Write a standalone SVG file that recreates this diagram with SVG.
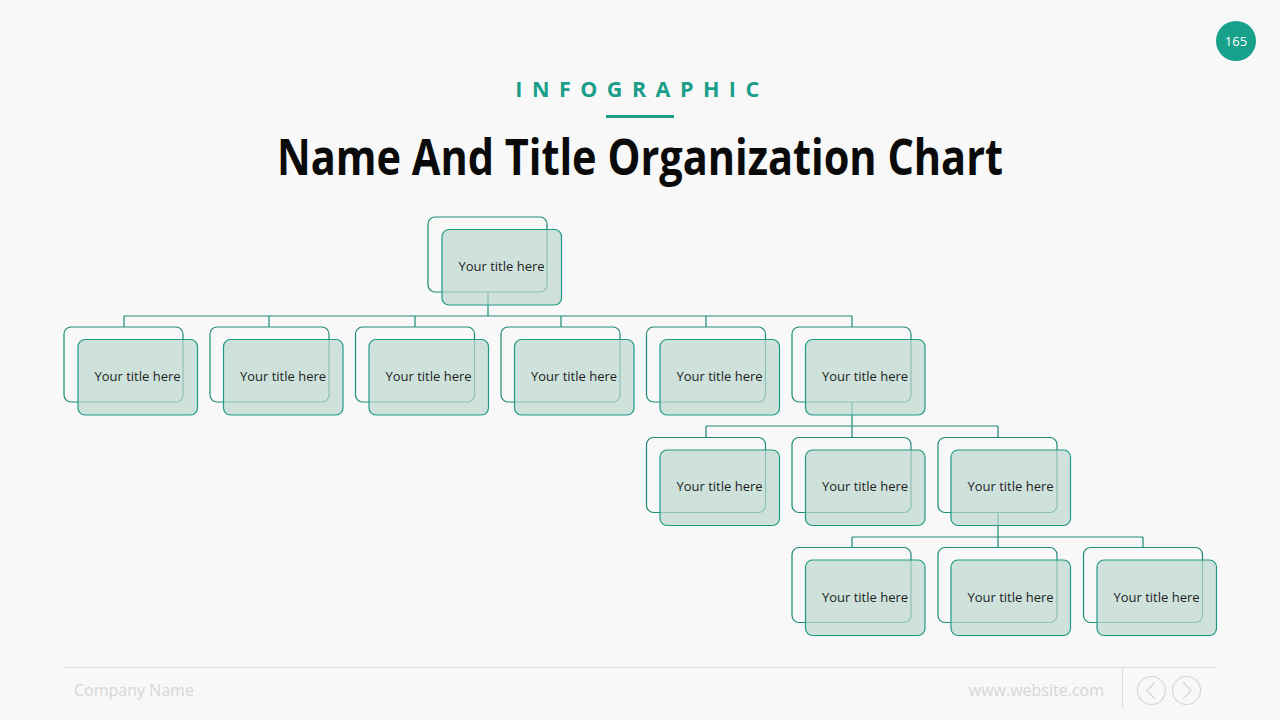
<svg xmlns="http://www.w3.org/2000/svg" width="1280" height="720" viewBox="0 0 1280 720">
<defs>
<style>
.bk{fill:#ffffff;fill-opacity:0.0;stroke:#1f8a78;stroke-width:1.2}
.fr{fill:#bcd9cf;fill-opacity:0.7;stroke:#1f9a84;stroke-width:1.2}
.t{font-family:"Open Sans","Liberation Sans",sans-serif;font-size:13px;fill:#1e1e1e;text-anchor:middle}
.cn{fill:none;stroke:#1f8a78;stroke-width:1.2}
</style>
</defs>
<rect width="1280" height="720" fill="#f8f8f8"/>
<circle cx="1236" cy="41" r="20" fill="#17a08a"/>
<text x="1236" y="46" font-family="'Open Sans','Liberation Sans',sans-serif" font-size="13" fill="#ffffff" text-anchor="middle">165</text>
<text x="642" y="97" font-family="'Open Sans','Liberation Sans',sans-serif" font-size="21.5" font-weight="700" fill="#1a9e89" text-anchor="middle" letter-spacing="9.5">INFOGRAPHIC</text>
<rect x="606" y="115" width="68" height="3" fill="#1a9e89"/>
<text x="640" y="175" font-family="'Open Sans','Liberation Sans',sans-serif" font-size="50" font-weight="700" fill="#0a0a0a" text-anchor="middle" textLength="726" lengthAdjust="spacingAndGlyphs">Name And Title Organization Chart</text>

<g id="connectors">
<path class="cn" d="M488 292V316M124 316H852M124 316V327M269 316V327M415 316V327M561 316V327M706 316V327M852 316V327"/>
<path class="cn" d="M852 402V426M706 426H998M706 426V437M852 426V437M998 426V437"/>
<path class="cn" d="M998 512V537M852 537H1143M852 537V547M998 537V547M1143 537V547"/>
</g>

<g id="root"><rect class="bk" x="428" y="217" width="119" height="75" rx="7"/><rect class="fr" x="442" y="229.5" width="119.5" height="75.5" rx="7"/><text class="t" x="501.5" y="271">Your title here</text></g>

<g id="n1"><rect class="bk" x="64" y="327" width="119" height="75" rx="7"/><rect class="fr" x="78" y="339.5" width="119.5" height="75.5" rx="7"/><text class="t" x="137.5" y="381">Your title here</text></g>
<g id="n2"><rect class="bk" x="210" y="327" width="119" height="75" rx="7"/><rect class="fr" x="223.5" y="339.5" width="119.5" height="75.5" rx="7"/><text class="t" x="283" y="381">Your title here</text></g>
<g id="n3"><rect class="bk" x="355.5" y="327" width="119" height="75" rx="7"/><rect class="fr" x="369" y="339.5" width="119.5" height="75.5" rx="7"/><text class="t" x="428.5" y="381">Your title here</text></g>
<g id="n4"><rect class="bk" x="501" y="327" width="119" height="75" rx="7"/><rect class="fr" x="514.5" y="339.5" width="119.5" height="75.5" rx="7"/><text class="t" x="574" y="381">Your title here</text></g>
<g id="n5"><rect class="bk" x="646.5" y="327" width="119" height="75" rx="7"/><rect class="fr" x="660" y="339.5" width="119.5" height="75.5" rx="7"/><text class="t" x="719.5" y="381">Your title here</text></g>
<g id="n6"><rect class="bk" x="792" y="327" width="119" height="75" rx="7"/><rect class="fr" x="805.5" y="339.5" width="119.5" height="75.5" rx="7"/><text class="t" x="865" y="381">Your title here</text></g>

<g id="n7"><rect class="bk" x="646.5" y="437.5" width="119" height="75" rx="7"/><rect class="fr" x="660" y="450" width="119.5" height="75.5" rx="7"/><text class="t" x="719.5" y="491">Your title here</text></g>
<g id="n8"><rect class="bk" x="792" y="437.5" width="119" height="75" rx="7"/><rect class="fr" x="805.5" y="450" width="119.5" height="75.5" rx="7"/><text class="t" x="865" y="491">Your title here</text></g>
<g id="n9"><rect class="bk" x="938" y="437.5" width="119" height="75" rx="7"/><rect class="fr" x="951" y="450" width="119.5" height="75.5" rx="7"/><text class="t" x="1010.5" y="491">Your title here</text></g>

<g id="n10"><rect class="bk" x="792" y="547.5" width="119" height="75" rx="7"/><rect class="fr" x="805.5" y="560" width="119.5" height="75.5" rx="7"/><text class="t" x="865" y="602">Your title here</text></g>
<g id="n11"><rect class="bk" x="938" y="547.5" width="119" height="75" rx="7"/><rect class="fr" x="951" y="560" width="119.5" height="75.5" rx="7"/><text class="t" x="1010.5" y="602">Your title here</text></g>
<g id="n12"><rect class="bk" x="1083.5" y="547.5" width="119" height="75" rx="7"/><rect class="fr" x="1097" y="560" width="119.5" height="75.5" rx="7"/><text class="t" x="1156.5" y="602">Your title here</text></g>

<g id="footer">
<line x1="64" y1="667.5" x2="1216" y2="667.5" stroke="#dcdcdc" stroke-width="1"/>
<line x1="1122.5" y1="668" x2="1122.5" y2="708" stroke="#dcdcdc" stroke-width="1"/>
<text x="74" y="696" font-family="'Open Sans','Liberation Sans',sans-serif" font-size="16" fill="#d6d6d6">Company Name</text>
<text x="1104" y="696" font-family="'Open Sans','Liberation Sans',sans-serif" font-size="16" fill="#d6d6d6" text-anchor="end">www.website.com</text>
<circle cx="1151.5" cy="690.5" r="14" fill="none" stroke="#d6d6d6" stroke-width="1.2"/>
<circle cx="1186.5" cy="690.5" r="14" fill="none" stroke="#d6d6d6" stroke-width="1.2"/>
<path d="M1155 682L1147 690.5L1155 699" fill="none" stroke="#d6d6d6" stroke-width="1.2"/>
<path d="M1183 682L1191 690.5L1183 699" fill="none" stroke="#d6d6d6" stroke-width="1.2"/>
</g>
</svg>
